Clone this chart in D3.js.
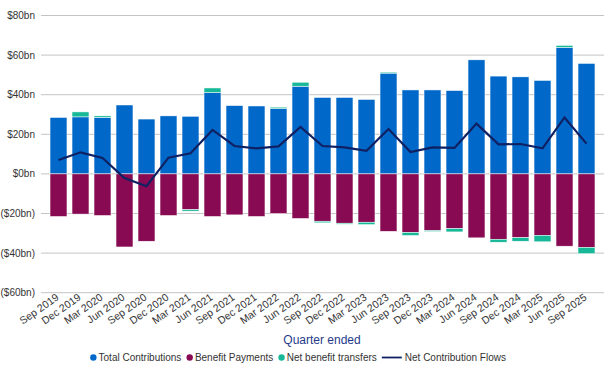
<!DOCTYPE html>
<html>
<head>
<meta charset="utf-8">
<script src="https://cdn.jsdelivr.net/npm/d3@7"></script>
<style>
  body { margin: 0; background: #fff; }
  svg { font-family: "Liberation Sans", Arial, sans-serif; }
</style>
</head>
<body>
<div id="chart"></div>
<script>
// quarters and values ($bn)
const quarters = ["Sep 2019", "Dec 2019", "Mar 2020", "Jun 2020", "Sep 2020", "Dec 2020",
    "Mar 2021", "Jun 2021", "Sep 2021", "Dec 2021", "Mar 2022", "Jun 2022", "Sep 2022",
    "Dec 2022", "Mar 2023", "Jun 2023", "Sep 2023", "Dec 2023", "Mar 2024", "Jun 2024",
    "Sep 2024", "Dec 2024", "Mar 2025", "Jun 2025", "Sep 2025"];
const contributions = [28.5, 28.8, 28.6, 34.8, 27.7, 29.3, 29.1, 41.1, 34.5, 34.3, 33.0, 44.3, 38.6,
    38.6, 37.6, 50.9, 42.4, 42.4, 42.1, 57.6, 49.4, 49.0, 47.2, 63.9, 55.8];
const benefits = [-21.5, -20.3, -21.0, -36.9, -34.0, -21.0, -18.1, -21.5, -20.7, -21.5, -20.0, -22.5, -23.9,
    -24.9, -24.4, -29.0, -29.6, -28.6, -27.6, -32.3, -33.0, -32.2, -31.0, -36.5, -37.1];
const transfers = [0, 2.5, 0.7, 0, 0, 0, -0.7, 2.3, 0, 0, 0.7, 2.0, -0.8,
    -0.5, -1.2, 0.5, -1.5, -0.5, -1.7, 0, -1.5, -1.8, -3.3, 1.0, -3.2];
const netFlows = [7.0, 10.9, 8.0, -2.1, -6.2, 8.2, 10.4, 22.2, 14.1, 12.9, 13.9, 23.7, 14.1,
    13.4, 11.7, 22.7, 11.0, 13.4, 13.1, 25.4, 14.9, 15.1, 12.9, 28.5, 15.3];
const yTicks = [80, 60, 40, 20, 0, -20, -40, -60];

const colors = {
    contrib: "#0068c9",
    benefit: "#870a52",
    transfer: "#17b897",
    line: "#0f2163"
};

const width = 608, height = 374;

const svg = d3.select("#chart")
    .append("svg")
    .attr("width", width)
    .attr("height", height);

const x = d3.scaleBand()
    .domain(quarters)
    .range([47.5, 597.5])
    .paddingInner(0.23)
    .paddingOuter(0.115);

const y = d3.scaleLinear()
    .domain([-60, 80])
    .range([292.7, 15.5]);

// gridlines + y labels
const grid = svg.append("g");
grid.selectAll("line")
    .data(yTicks)
    .enter()
    .append("line")
    .attr("x1", 41)
    .attr("x2", 604)
    .attr("y1", d => y(d))
    .attr("y2", d => y(d))
    .attr("stroke", "#c4c4c4")
    .attr("stroke-width", 1);

grid.selectAll("text")
    .data(yTicks)
    .enter()
    .append("text")
    .attr("x", 35)
    .attr("y", d => y(d))
    .attr("dy", "0.35em")
    .attr("text-anchor", "end")
    .attr("font-size", 10)
    .attr("fill", "#333")
    .text(d => d < 0 ? "($" + (-d) + "bn)" : "$" + d + "bn");

// stacked bars
const bars = svg.append("g");
quarters.forEach((q, i) => {
    const c = contributions[i], b = benefits[i], t = transfers[i];
    const segs = [
        { y0: 0, y1: c, fill: colors.contrib },
        { y0: b, y1: 0, fill: colors.benefit }
    ];
    if (t > 0) segs.push({ y0: c, y1: c + t, fill: colors.transfer });
    if (t < 0) segs.push({ y0: b + t, y1: b, fill: colors.transfer });
    segs.forEach(s => {
        bars.append("rect")
            .attr("x", x(q))
            .attr("width", x.bandwidth())
            .attr("y", y(s.y1))
            .attr("height", y(s.y0) - y(s.y1))
            .attr("fill", s.fill)
            .attr("stroke", "#fff")
            .attr("stroke-width", 0.5);
    });
});

// net flow line
const line = d3.line()
    .x((d, i) => x(quarters[i]) + x.bandwidth() / 2)
    .y(d => y(d));

svg.append("path")
    .datum(netFlows)
    .attr("fill", "none")
    .attr("stroke", colors.line)
    .attr("stroke-width", 2.2)
    .attr("stroke-linejoin", "miter")
    .attr("d", line);

// x labels
svg.append("g")
    .selectAll("text")
    .data(quarters)
    .enter()
    .append("text")
    .attr("text-anchor", "end")
    .attr("font-size", 10.5)
    .attr("fill", "#333")
    .attr("transform", d => `translate(${x(d) + x.bandwidth() / 2 + 1},${299}) rotate(-35)`)
    .text(d => d);

svg.append("text")
    .attr("x", 322)
    .attr("y", 344)
    .attr("text-anchor", "middle")
    .attr("font-size", 12)
    .attr("fill", "#1f3a8a")
    .text("Quarter ended");

// legend
const legendItems = [
    { label: "Total Contributions", color: colors.contrib, type: "dot" },
    { label: "Benefit Payments", color: colors.benefit, type: "dot" },
    { label: "Net benefit transfers", color: colors.transfer, type: "dot" },
    { label: "Net Contribution Flows", color: colors.line, type: "line" }
];
const legend = svg.append("g");
let lx = 0;
legendItems.forEach(item => {
    const g = legend.append("g").attr("transform", `translate(${lx},0)`);
    let tx;
    if (item.type === "dot") {
        g.append("circle").attr("cx", 3.3).attr("cy", -3.5).attr("r", 3.2).attr("fill", item.color);
        tx = 8.5;
    } else {
        g.append("line").attr("x1", 0).attr("x2", 20).attr("y1", -3.5).attr("y2", -3.5)
            .attr("stroke", item.color).attr("stroke-width", 1.8);
        tx = 23;
    }
    const t = g.append("text")
        .attr("x", tx)
        .attr("font-size", 10)
        .attr("fill", "#333")
        .text(item.label);
    lx += tx + t.node().getComputedTextLength() + 5;
});
legend.attr("transform", `translate(${298 - (lx - 5) / 2},361)`);
</script>
</body>
</html>
